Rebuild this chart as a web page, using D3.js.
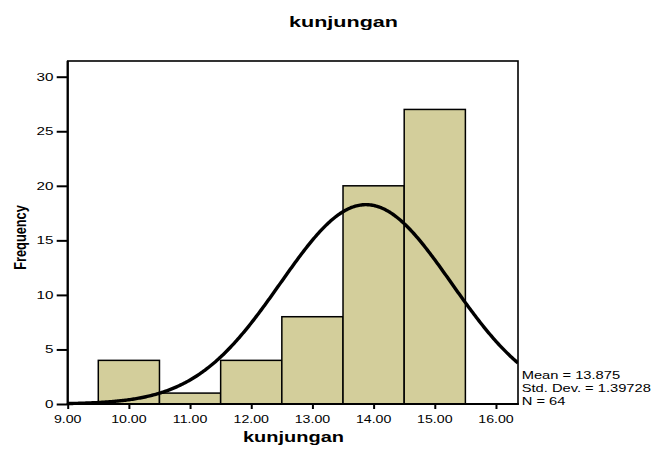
<!DOCTYPE html>
<html>
<head>
<meta charset="utf-8">
<script src="https://cdn.jsdelivr.net/npm/d3@7"></script>
<style>
  html, body { margin: 0; padding: 0; background: #fff; }
  svg { display: block; }
  text { font-family: "Liberation Sans", Arial, sans-serif; fill: #000; }
</style>
</head>
<body>
<svg id="chart" width="656" height="451"></svg>
<script>
// ---- data ----
const binCenters = [10, 11, 12, 13, 14, 15];
const frequencies = [4, 1, 4, 8, 20, 27];
const xTicks = [9, 10, 11, 12, 13, 14, 15, 16];
const yTicks = [0, 5, 10, 15, 20, 25, 30];
const statLabels = ["Mean = 13.875", "Std. Dev. = 1.39728", "N = 64"];
const statMean = 13.875;
const statSd = 1.39728;
const statN = 64;
const chartTitle = "kunjungan";
const xTitle = "kunjungan";
const yTitle = "Frequency";

// ---- layout ----
const svg = d3.select("#chart");
const L = 67.7, R = 518, T = 61, B = 404;
const x = d3.scaleLinear().domain([9, 16.36]).range([L, R]);
const y = d3.scaleLinear().domain([0, 31.44]).range([B, T]);
const SX = 1.43; // horizontal glyph stretch seen in reference

function stretchedText(g, px, py, str, size, weight, anchor, sx) {
  return g.append("text")
    .attr("transform", `translate(${px},${py}) scale(${sx},1)`)
    .attr("text-anchor", anchor)
    .style("font-size", size + "px")
    .style("font-weight", weight)
    .text(str);
}

// frame
svg.append("rect")
  .attr("x", L).attr("y", T).attr("width", R - L).attr("height", B - T)
  .attr("fill", "#fff").attr("stroke", "#000").attr("stroke-width", 1.6);

// bars
const bw = x(1) - x(0);
svg.append("g").selectAll("rect").data(binCenters).join("rect")
  .attr("x", (d) => x(d - 0.5))
  .attr("y", (d, i) => y(frequencies[i]))
  .attr("width", bw)
  .attr("height", (d, i) => y(0) - y(frequencies[i]))
  .attr("fill", "#d3ce9b")
  .attr("stroke", "#000")
  .attr("stroke-width", 1.5);

// fitted normal curve from the displayed statistics
const clip = svg.append("clipPath").attr("id", "plotclip")
  .append("rect").attr("x", L).attr("y", T - 5).attr("width", R - L).attr("height", B - T + 10);
const xs = d3.range(9, 16.36 + 1e-9, 0.02);
const dens = (v) => statN * 1 * Math.exp(-0.5 * Math.pow((v - statMean) / statSd, 2)) / (statSd * Math.sqrt(2 * Math.PI));
svg.append("path")
  .attr("clip-path", "url(#plotclip)")
  .datum(xs)
  .attr("fill", "none")
  .attr("stroke", "#000")
  .attr("stroke-width", 3.4)
  .attr("stroke-linejoin", "round")
  .attr("d", d3.line().x((d) => x(d)).y((d) => y(dens(d))));

// axes
const yAxis = svg.append("g").attr("transform", `translate(${L},0)`)
  .call(d3.axisLeft(y).tickValues(yTicks).tickSize(11).tickFormat(""));
yAxis.select(".domain").remove();
yAxis.selectAll("line").attr("stroke", "#000").attr("stroke-width", 2);
const xAxis = svg.append("g").attr("transform", `translate(0,${B})`)
  .call(d3.axisBottom(x).tickValues(xTicks).tickSize(5).tickFormat(""));
xAxis.select(".domain").remove();
xAxis.selectAll("line").attr("stroke", "#000").attr("stroke-width", 2);

svg.append("line").attr("x1", L).attr("x2", L).attr("y1", T).attr("y2", B + 1)
  .attr("stroke", "#000").attr("stroke-width", 2.2);
svg.append("line").attr("x1", L - 1).attr("x2", R + 0.8).attr("y1", B).attr("y2", B)
  .attr("stroke", "#000").attr("stroke-width", 2.2);

// tick labels
yTicks.forEach((t) => stretchedText(svg, 53.5, y(t) + 3.8, String(t), 10.5, "normal", "end", 1.45));
xTicks.forEach((t) => stretchedText(svg, x(t), 423.3, t.toFixed(2), 10.5, "normal", "middle", 1.35));

// titles
stretchedText(svg, 343.5, 27, chartTitle, 15, "bold", "middle", 1.44);
stretchedText(svg, 293.5, 441.7, xTitle, 14, "bold", "middle", 1.43);
svg.append("text")
  .attr("transform", `translate(26.3,237.5) rotate(-90) scale(1,1.25)`)
  .attr("text-anchor", "middle")
  .style("font-size", "12.8px")
  .style("font-weight", "bold")
  .text(yTitle);

// statistics
const statY = [378.6, 391.9, 405.2];
statLabels.forEach((s, i) => stretchedText(svg, 521.7, statY[i], s, 10.5, "normal", "start", 1.4));
</script>
</body>
</html>
